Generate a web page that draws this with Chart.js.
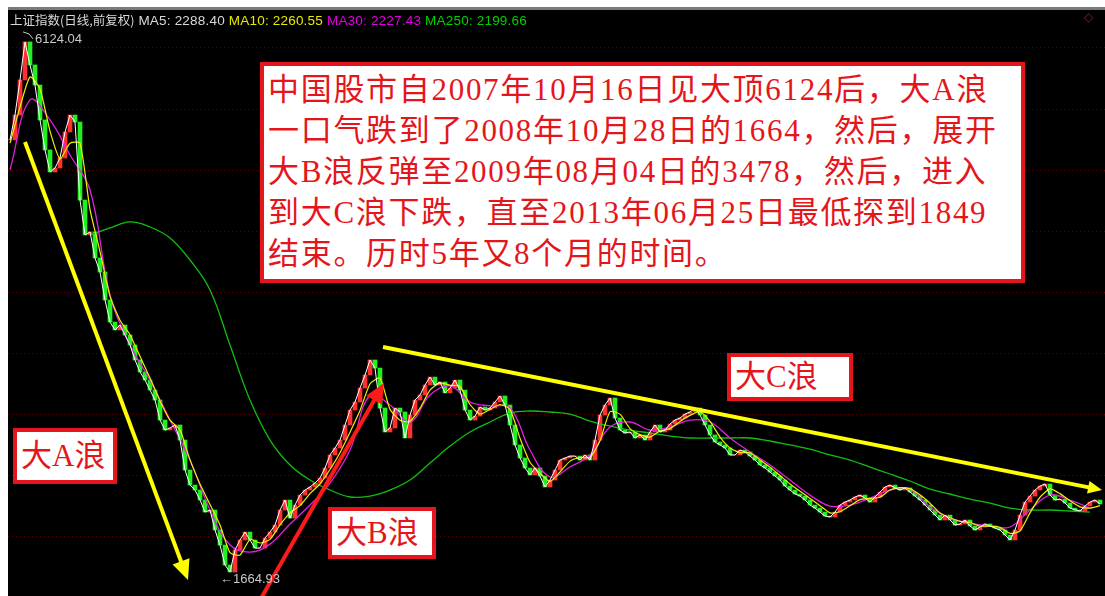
<!DOCTYPE html>
<html>
<head>
<meta charset="utf-8">
<script src="https://cdn.jsdelivr.net/npm/chart.js@4.4.0/dist/chart.umd.min.js"></script>
<style>
body{margin:0;background:#fff;width:1105px;height:596px;overflow:hidden;position:relative;font-family:"Liberation Sans",Arial,sans-serif}
#topline{position:absolute;left:8px;top:7px;width:1097px;height:3px;background:#7a7a7a}
#wrap{position:absolute;left:8px;top:10px;width:1097px;height:586px;background:#000}
#title{position:absolute;left:10px;top:12px;font-size:13.5px;line-height:15px;color:#d8d8d8;white-space:nowrap;z-index:2;letter-spacing:0.2px}
#title .cn{font-family:"Noto Sans CJK SC",sans-serif;font-size:12.5px;letter-spacing:0}
#icon{position:absolute;left:1084px;top:10px;font-size:12px;color:#8a2020;z-index:2}
.box{position:absolute;background:#fff;border:4px solid #e4161c;color:#e4161c;box-sizing:border-box;z-index:2;
  font-family:"Liberation Serif","Noto Sans CJK SC",serif;white-space:nowrap}
#note{left:260px;top:62px;width:765px;height:221px;font-size:31px;line-height:41px;padding:3px 0 0 4px;letter-spacing:1.7px}
.wave{font-size:31px;line-height:40px;padding-left:4px}
</style>
</head>
<body>
<div id="topline"></div>
<div id="wrap"><canvas id="kline"></canvas></div>
<div id="title"><span class="cn">上证指数(日线,前复权)</span> MA5: 2288.40 <span style="color:#e8e800">MA10: 2260.55</span> <span style="color:#e000e0">MA30: 2227.43</span> <span style="color:#00d000">MA250: 2199.66</span></div>
<div id="icon">◇</div>
<div class="box" id="note">中国股市自2007年10月16日见大顶6124后，大A浪<br>一口气跌到了2008年10月28日的1664，然后，展开<br>大B浪反弹至2009年08月04日的3478，然后，进入<br>到大C浪下跌，直至2013年06月25日最低探到1849<br>结束。历时5年又8个月的时间。</div>
<div class="box wave" style="left:13px;top:428px;width:104px;height:56px;padding-top:4px">大A浪</div>
<div class="box wave" style="left:328px;top:507px;width:108px;height:52px;padding-top:2px">大B浪</div>
<div class="box wave" style="left:727px;top:353px;width:126px;height:48px;padding-top:0">大C浪</div>
<script>
// weekly-ish closes, one per sample index
const close = [
  5277,5484,5775,6091,5900,5733,5443,5194,5011,5044,
  5127,5343,5484,5426,4778,4488,4513,4297,4180,3948,
  3765,3699,3740,3657,3574,3450,3350,3283,3200,3117,
  2951,2868,2885,2910,2785,2536,2411,2370,2287,2187,
  2204,2038,1913,1747,1689,1872,1955,2021,1955,1888,
  1888,1971,2021,2079,2204,2287,2137,2245,2328,2370,
  2395,2428,2470,2553,2661,2719,2785,2910,3034,3101,
  3217,3325,3450,3383,3051,2852,2885,3051,3018,2802,
  2993,3117,3159,3242,3308,3242,3267,3176,3217,3283,
  3200,3034,2951,2984,3059,3034,3051,3101,3151,3076,
  2910,2744,2636,2553,2495,2553,2486,2395,2453,2536,
  2619,2636,2652,2652,2619,2661,2619,2785,2993,3076,
  3134,2968,2868,2843,2852,2802,2827,2785,2852,2910,
  2852,2868,2918,2951,2968,3001,3018,3051,2993,2910,
  2827,2769,2744,2719,2661,2661,2702,2686,2652,2619,
  2578,2553,2519,2486,2453,2403,2370,2337,2320,2287,
  2245,2220,2187,2154,2146,2187,2245,2270,2287,2312,
  2328,2303,2270,2312,2353,2395,2411,2387,2370,2387,
  2353,2320,2287,2245,2204,2162,2121,2162,2121,2079,
  2088,2121,2071,2038,2063,2088,2071,2054,2038,1996,
  1955,2038,2162,2270,2320,2370,2403,2420,2328,2287,
  2295,2262,2220,2204,2196,2237,2270,2287,2254
];
// MA10, every 2nd sample
const ma10 = [
  5250,5550,5800,5700,5350,5120,5250,5250,4700,4350,
  3980,3780,3660,3480,3300,3110,2950,2870,2620,2420,
  2250,2080,1850,1830,1960,1930,1960,2080,2180,2240,
  2340,2420,2540,2680,2850,3030,3250,3300,3040,2950,
  2940,3050,3200,3260,3240,3230,3080,3000,3040,3080,
  3040,2800,2600,2510,2440,2520,2610,2640,2640,2780,
  3020,3000,2880,2830,2810,2860,2880,2940,2990,3020,
  2940,2810,2720,2680,2680,2620,2560,2490,2420,2360,
  2300,2240,2180,2190,2240,2290,2300,2310,2370,2390,
  2380,2330,2260,2180,2140,2110,2100,2070,2070,2060,
  2010,2030,2180,2310,2380,2340,2280,2230,2220,2240
];
// MA30, every 4th sample
const ma30 = [
  5028,5609,5443,5152,4861,3989,3574,3283,2951,2619,
  2204,1913,1855,1921,2088,2245,2428,2702,3159,3076,
  2935,3159,3234,3101,3068,3051,2702,2478,2561,2661,
  2893,2935,2868,2893,2951,2935,2802,2686,2578,2453,
  2328,2237,2245,2303,2370,2378,2229,2137,2096,2071,
  2063,2204,2328,2287,2220
];
// MA250, every 4th sample starting at sample 16
const ma250Start = 16;
const ma250 = [
  4488,4546,4596,4554,4463,4280,4031,3574,3117,2785,
  2578,2453,2370,2312,2320,2370,2453,2594,2735,2852,
  2935,3009,3026,3018,3001,2943,2901,2868,2843,2818,
  2802,2802,2802,2802,2777,2744,2710,2661,2619,2561,
  2503,2445,2378,2337,2295,2262,2220,2204,2204,2196,
  2187
];
// hidden price levels where the dotted grid sits
const gridLevels = [1980,2488,2995,3503,4011,4518,5026,5533,6041];
const peak = {i: 3, v: 6124.04};
const trough = {i: 44, v: 1664.93};
// wave arrows: [sample, price] from -> to
const arrows = [
  {from: [3, 5260], to: [35.6, 1622], color: '#ffff00', width: 4, head: 20},
  {from: [50, 1456], to: [74.8, 3259], color: '#ff1a1a', width: 4, head: 20},
  {from: [74.6, 3558], to: [218.4, 2370], color: '#ffff00', width: 4, head: 14}
];

const toXY = (arr, step, start) => arr.map((v, k) => ({x: start + k * step, y: v}));

const candles = close.map((c, i) => ({x: i, y: [i ? close[i - 1] : c, c]}));
const candleColors = close.map((c, i) => (i && c < close[i - 1]) ? '#20f020' : '#ff3030');

const overlay = {
  id: 'overlay',
  afterDatasetsDraw(chart) {
    const {ctx, scales: {x, y}} = chart;
    ctx.save();
    arrows.forEach(a => {
      const x1 = x.getPixelForValue(a.from[0]), y1 = y.getPixelForValue(a.from[1]);
      const x2 = x.getPixelForValue(a.to[0]), y2 = y.getPixelForValue(a.to[1]);
      const ang = Math.atan2(y2 - y1, x2 - x1);
      ctx.strokeStyle = a.color;
      ctx.fillStyle = a.color;
      ctx.lineWidth = a.width;
      ctx.beginPath();
      ctx.moveTo(x1, y1);
      ctx.lineTo(x2 - Math.cos(ang) * a.head * 0.6, y2 - Math.sin(ang) * a.head * 0.6);
      ctx.stroke();
      ctx.beginPath();
      ctx.moveTo(x2, y2);
      ctx.lineTo(x2 - a.head * Math.cos(ang) + a.head * 0.45 * Math.sin(ang), y2 - a.head * Math.sin(ang) - a.head * 0.45 * Math.cos(ang));
      ctx.lineTo(x2 - a.head * Math.cos(ang) - a.head * 0.45 * Math.sin(ang), y2 - a.head * Math.sin(ang) + a.head * 0.45 * Math.cos(ang));
      ctx.closePath();
      ctx.fill();
    });
    // high / low marks
    ctx.fillStyle = '#c8c8c8';
    ctx.strokeStyle = '#c8c8c8';
    ctx.lineWidth = 1;
    ctx.font = '13px "Liberation Sans", Arial';
    ctx.textBaseline = 'middle';
    let px = x.getPixelForValue(peak.i), py = y.getPixelForValue(peak.v);
    ctx.beginPath();
    ctx.moveTo(px - 2, py - 6);
    ctx.lineTo(px + 4, py - 4);
    ctx.lineTo(px + 8, py + 1);
    ctx.stroke();
    ctx.fillText(peak.v.toFixed(2), px + 10, py + 1);
    px = x.getPixelForValue(trough.i);
    py = y.getPixelForValue(trough.v);
    ctx.fillText('\u2190' + trough.v.toFixed(2), px - 10, py + 4);
    ctx.restore();
  }
};

new Chart(document.getElementById('kline'), {
  type: 'bar',
  data: {
    datasets: [
      {type: 'line', label: 'MA5', data: toXY(close, 1, 0), borderColor: '#ffffff', borderWidth: 1, pointRadius: 0, order: 1},
      {type: 'line', label: 'MA10', data: toXY(ma10, 2, 0), borderColor: '#f0f000', borderWidth: 1.2, pointRadius: 0, tension: 0.2, order: 2},
      {type: 'line', label: 'MA30', data: toXY(ma30, 4, 0), borderColor: '#e020e0', borderWidth: 1.3, pointRadius: 0, tension: 0.4, order: 3},
      {type: 'line', label: 'MA250', data: toXY(ma250, 4, ma250Start), borderColor: '#10c010', borderWidth: 1.3, pointRadius: 0, tension: 0.4, order: 4},
      {label: 'K', data: candles, backgroundColor: candleColors, barThickness: 4, grouped: false, order: 5}
    ]
  },
  options: {
    responsive: true,
    maintainAspectRatio: false,
    animation: false,
    layout: {padding: 0},
    plugins: {legend: {display: false}, tooltip: {enabled: false}},
    scales: {
      x: {type: 'linear', min: -0.4, max: 219, offset: false, display: false},
      y: {
        type: 'linear', min: 1490, max: 6356,
        afterBuildTicks: s => { s.ticks = gridLevels.map(v => ({value: v})); },
        ticks: {display: false},
        grid: {color: '#5a0000', lineWidth: 1, drawTicks: false},
        border: {display: false, dash: [1, 3]}
      }
    }
  },
  plugins: [overlay]
});
</script>
</body>
</html>
